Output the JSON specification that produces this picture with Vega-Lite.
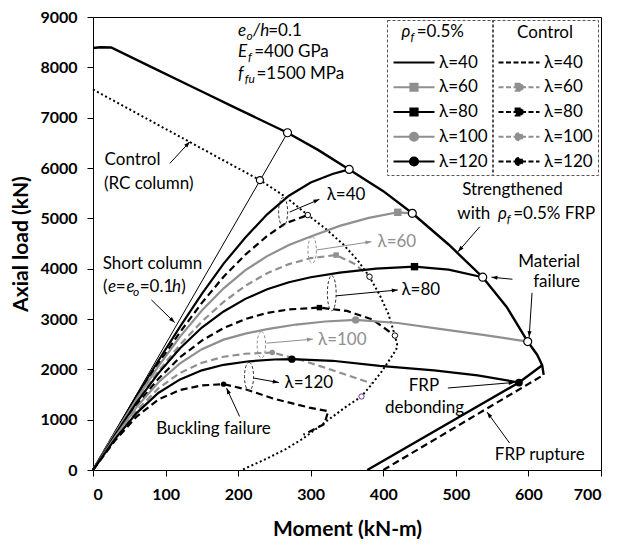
{
  "$schema": "https://vega.github.io/schema/vega-lite/v6.json",
  "width": 508,
  "height": 453,
  "autosize": {"type": "none"},
  "padding": {"left": 93, "top": 17, "right": 17, "bottom": 76},
  "background": "white",
  "config": {
    "font": "Lato",
    "view": {"stroke": "#000", "strokeWidth": 1},
    "axis": {"domainColor": "#000", "tickColor": "#000", "tickSize": 6, "labelColor": "#000", "labelFont": "Lato", "labelFontSize": 16, "labelFontWeight": "bold", "titleFont": "Lato", "titleFontSize": 21, "titleFontWeight": "bold", "titleColor": "#000", "grid": false, "labelPadding": 10, "format": "d"},
    "legend": {"labelFont": "Lato", "titleFont": "Lato", "labelFontSize": 17, "titleFontSize": 17, "titleFontWeight": "normal", "labelColor": "#000", "titleColor": "#000"},
    "text": {"font": "Lato", "fontSize": 17, "color": "#000"}
  },
  "datasets": {
    "lamS": [
      {"lam": "λ=40", "M": 0, "P": 0}, {"lam": "λ=40", "M": 30, "P": 740}, {"lam": "λ=40", "M": 60, "P": 1470}, {"lam": "λ=40", "M": 90, "P": 2170}, {"lam": "λ=40", "M": 120, "P": 2850}, {"lam": "λ=40", "M": 150, "P": 3500}, {"lam": "λ=40", "M": 180, "P": 4100}, {"lam": "λ=40", "M": 210, "P": 4620}, {"lam": "λ=40", "M": 240, "P": 5080}, {"lam": "λ=40", "M": 270, "P": 5450}, {"lam": "λ=40", "M": 300, "P": 5710}, {"lam": "λ=40", "M": 330, "P": 5880}, {"lam": "λ=40", "M": 353, "P": 5972},
      {"lam": "λ=60", "M": 0, "P": 0}, {"lam": "λ=60", "M": 30, "P": 720}, {"lam": "λ=60", "M": 60, "P": 1410}, {"lam": "λ=60", "M": 90, "P": 2060}, {"lam": "λ=60", "M": 120, "P": 2650}, {"lam": "λ=60", "M": 150, "P": 3170}, {"lam": "λ=60", "M": 180, "P": 3610}, {"lam": "λ=60", "M": 210, "P": 3970}, {"lam": "λ=60", "M": 240, "P": 4250}, {"lam": "λ=60", "M": 270, "P": 4470}, {"lam": "λ=60", "M": 300, "P": 4640}, {"lam": "λ=60", "M": 340, "P": 4850}, {"lam": "λ=60", "M": 380, "P": 5010}, {"lam": "λ=60", "M": 420, "P": 5120}, {"lam": "λ=60", "M": 440, "P": 5100},
      {"lam": "λ=80", "M": 0, "P": 0}, {"lam": "λ=80", "M": 30, "P": 690}, {"lam": "λ=80", "M": 60, "P": 1340}, {"lam": "λ=80", "M": 90, "P": 1920}, {"lam": "λ=80", "M": 120, "P": 2420}, {"lam": "λ=80", "M": 150, "P": 2830}, {"lam": "λ=80", "M": 180, "P": 3150}, {"lam": "λ=80", "M": 210, "P": 3400}, {"lam": "λ=80", "M": 240, "P": 3590}, {"lam": "λ=80", "M": 270, "P": 3730}, {"lam": "λ=80", "M": 300, "P": 3830}, {"lam": "λ=80", "M": 340, "P": 3920}, {"lam": "λ=80", "M": 390, "P": 4000}, {"lam": "λ=80", "M": 443, "P": 4040}, {"lam": "λ=80", "M": 490, "P": 3980}, {"lam": "λ=80", "M": 537, "P": 3830},
      {"lam": "λ=100", "M": 0, "P": 0}, {"lam": "λ=100", "M": 30, "P": 650}, {"lam": "λ=100", "M": 60, "P": 1250}, {"lam": "λ=100", "M": 90, "P": 1740}, {"lam": "λ=100", "M": 120, "P": 2120}, {"lam": "λ=100", "M": 150, "P": 2400}, {"lam": "λ=100", "M": 180, "P": 2590}, {"lam": "λ=100", "M": 210, "P": 2710}, {"lam": "λ=100", "M": 240, "P": 2800}, {"lam": "λ=100", "M": 280, "P": 2890}, {"lam": "λ=100", "M": 320, "P": 2950}, {"lam": "λ=100", "M": 362, "P": 2982}, {"lam": "λ=100", "M": 420, "P": 2920}, {"lam": "λ=100", "M": 480, "P": 2800}, {"lam": "λ=100", "M": 540, "P": 2680}, {"lam": "λ=100", "M": 599, "P": 2552},
      {"lam": "λ=120", "M": 0, "P": 0}, {"lam": "λ=120", "M": 30, "P": 610}, {"lam": "λ=120", "M": 60, "P": 1130}, {"lam": "λ=120", "M": 90, "P": 1530}, {"lam": "λ=120", "M": 120, "P": 1800}, {"lam": "λ=120", "M": 150, "P": 1980}, {"lam": "λ=120", "M": 180, "P": 2090}, {"lam": "λ=120", "M": 215, "P": 2160}, {"lam": "λ=120", "M": 250, "P": 2195}, {"lam": "λ=120", "M": 274, "P": 2202}, {"lam": "λ=120", "M": 330, "P": 2170}, {"lam": "λ=120", "M": 395, "P": 2069}, {"lam": "λ=120", "M": 470, "P": 1980}, {"lam": "λ=120", "M": 530, "P": 1880}, {"lam": "λ=120", "M": 587, "P": 1738}
    ],
    "lamC": [
      {"lam": "λ=40", "M": 0, "P": 0}, {"lam": "λ=40", "M": 30, "P": 730}, {"lam": "λ=40", "M": 60, "P": 1440}, {"lam": "λ=40", "M": 90, "P": 2110}, {"lam": "λ=40", "M": 120, "P": 2740}, {"lam": "λ=40", "M": 150, "P": 3320}, {"lam": "λ=40", "M": 180, "P": 3840}, {"lam": "λ=40", "M": 210, "P": 4280}, {"lam": "λ=40", "M": 240, "P": 4650}, {"lam": "λ=40", "M": 265, "P": 4900}, {"lam": "λ=40", "M": 296, "P": 5065},
      {"lam": "λ=60", "M": 0, "P": 0}, {"lam": "λ=60", "M": 30, "P": 700}, {"lam": "λ=60", "M": 60, "P": 1360}, {"lam": "λ=60", "M": 90, "P": 1960}, {"lam": "λ=60", "M": 120, "P": 2490}, {"lam": "λ=60", "M": 150, "P": 2950}, {"lam": "λ=60", "M": 180, "P": 3340}, {"lam": "λ=60", "M": 210, "P": 3660}, {"lam": "λ=60", "M": 240, "P": 3910}, {"lam": "λ=60", "M": 270, "P": 4090}, {"lam": "λ=60", "M": 300, "P": 4210}, {"lam": "λ=60", "M": 335, "P": 4270}, {"lam": "λ=60", "M": 360, "P": 4100}, {"lam": "λ=60", "M": 381, "P": 3840},
      {"lam": "λ=80", "M": 0, "P": 0}, {"lam": "λ=80", "M": 30, "P": 670}, {"lam": "λ=80", "M": 60, "P": 1290}, {"lam": "λ=80", "M": 90, "P": 1810}, {"lam": "λ=80", "M": 120, "P": 2240}, {"lam": "λ=80", "M": 150, "P": 2570}, {"lam": "λ=80", "M": 180, "P": 2820}, {"lam": "λ=80", "M": 210, "P": 3000}, {"lam": "λ=80", "M": 240, "P": 3120}, {"lam": "λ=80", "M": 270, "P": 3190}, {"lam": "λ=80", "M": 312, "P": 3226}, {"lam": "λ=80", "M": 350, "P": 3160}, {"lam": "λ=80", "M": 385, "P": 2990}, {"lam": "λ=80", "M": 416, "P": 2671},
      {"lam": "λ=100", "M": 0, "P": 0}, {"lam": "λ=100", "M": 30, "P": 620}, {"lam": "λ=100", "M": 60, "P": 1180}, {"lam": "λ=100", "M": 90, "P": 1620}, {"lam": "λ=100", "M": 120, "P": 1930}, {"lam": "λ=100", "M": 150, "P": 2130}, {"lam": "λ=100", "M": 180, "P": 2250}, {"lam": "λ=100", "M": 210, "P": 2310}, {"lam": "λ=100", "M": 247, "P": 2334}, {"lam": "λ=100", "M": 290, "P": 2170}, {"lam": "λ=100", "M": 335, "P": 1960}, {"lam": "λ=100", "M": 384, "P": 1720},
      {"lam": "λ=120", "M": 0, "P": 0}, {"lam": "λ=120", "M": 30, "P": 580}, {"lam": "λ=120", "M": 60, "P": 1060}, {"lam": "λ=120", "M": 90, "P": 1400}, {"lam": "λ=120", "M": 120, "P": 1590}, {"lam": "λ=120", "M": 150, "P": 1680}, {"lam": "λ=120", "M": 180, "P": 1706}, {"lam": "λ=120", "M": 211, "P": 1600}, {"lam": "λ=120", "M": 248, "P": 1420}, {"lam": "λ=120", "M": 298, "P": 1240}, {"lam": "λ=120", "M": 324, "P": 1170}, {"lam": "λ=120", "M": 319, "P": 915}, {"lam": "λ=120", "M": 290, "P": 700}
    ],
    "mkS": [
      {"lam": "λ=60", "M": 420, "P": 5120}, {"lam": "λ=80", "M": 443, "P": 4040}, {"lam": "λ=100", "M": 362, "P": 2982}, {"lam": "λ=120", "M": 274, "P": 2202}
    ],
    "mkC": [
      {"lam": "λ=60", "M": 335, "P": 4270}, {"lam": "λ=80", "M": 312, "P": 3226}, {"lam": "λ=100", "M": 247, "P": 2334}, {"lam": "λ=120", "M": 180, "P": 1706}
    ],
    "envS": [
      {"M": 0, "P": 8385}, {"M": 10, "P": 8400}, {"M": 25, "P": 8395}, {"M": 80, "P": 8010}, {"M": 140, "P": 7590}, {"M": 200, "P": 7170}, {"M": 268, "P": 6700}, {"M": 310, "P": 6360}, {"M": 353, "P": 5972}, {"M": 400, "P": 5540}, {"M": 440, "P": 5100}, {"M": 490, "P": 4480}, {"M": 537, "P": 3830}, {"M": 570, "P": 3240}, {"M": 599, "P": 2552}, {"M": 612, "P": 2290}, {"M": 619, "P": 2080}, {"M": 621, "P": 1890}
    ],
    "envC": [
      {"M": 0, "P": 7560}, {"M": 60, "P": 7090}, {"M": 120, "P": 6620}, {"M": 180, "P": 6150}, {"M": 230, "P": 5760}, {"M": 265, "P": 5430}, {"M": 296, "P": 5065}, {"M": 320, "P": 4800}, {"M": 345, "P": 4480}, {"M": 365, "P": 4160}, {"M": 381, "P": 3840}, {"M": 395, "P": 3480}, {"M": 407, "P": 3100}, {"M": 416, "P": 2671}, {"M": 419, "P": 2500}, {"M": 418, "P": 2400}, {"M": 410, "P": 2220}, {"M": 398, "P": 1960}, {"M": 385, "P": 1720}, {"M": 370, "P": 1460}, {"M": 348, "P": 1250}, {"M": 320, "P": 950}, {"M": 289, "P": 620}, {"M": 265, "P": 410}, {"M": 240, "P": 230}, {"M": 205, "P": 0}
    ],
    "shortCol": [{"M": 0, "P": 0}, {"M": 268, "P": 6700}],
    "tensionDeb": [{"M": 378, "P": 0}, {"M": 587, "P": 1738}, {"M": 619, "P": 2080}],
    "tensionRup": [{"M": 400, "P": 0}, {"M": 621, "P": 1890}],
    "openS": [{"M": 268, "P": 6700}, {"M": 353, "P": 5972}, {"M": 440, "P": 5100}, {"M": 537, "P": 3830}, {"M": 599, "P": 2552}],
    "openCBig": [{"M": 230, "P": 5760}],
    "openC": [{"M": 296, "P": 5065}, {"M": 381, "P": 3840}, {"M": 416, "P": 2671}],
    "openPurple": [{"M": 370, "P": 1460}],
    "debond": [{"M": 587, "P": 1738}],
    "ellBlack": [{"M": 262, "P": 5130}, {"M": 215, "P": 1857}],
    "ellBig": [{"M": 329, "P": 3512}],
    "ellGray": [{"M": 302, "P": 4371}, {"M": 232, "P": 2486}],
    "arrows": [
      {"M0": 105.8, "P0": 6091, "M": 133.4, "P": 6520},
      {"M0": 80.5, "P0": 3379, "M": 112.6, "P": 2929},
      {"M0": 202, "P0": 1063, "M": 184, "P": 1627},
      {"M0": 222, "P0": 1825, "M": 256, "P": 1738},
      {"M0": 335, "P0": 3460, "M": 420, "P": 3577},
      {"M0": 271, "P0": 5125, "M": 312, "P": 5377},
      {"M0": 533, "P0": 4834, "M": 503, "P": 4337},
      {"M0": 578, "P0": 3790, "M": 549, "P": 3830},
      {"M0": 605, "P0": 3520, "M": 601, "P": 2640},
      {"M0": 489, "P0": 1629, "M": 581, "P": 1740},
      {"M0": 574, "P0": 536, "M": 543, "P": 1150}
    ],
    "arrowsGray": [
      {"M0": 239, "P0": 2520, "M": 303, "P": 2600},
      {"M0": 308, "P0": 4371, "M": 383.6, "P": 4536}
    ],
    "txt": [
      {"t": "Control", "M": 16, "P": 6163},
      {"t": "(RC column)", "M": 15, "P": 5690},
      {"t": "Short column", "M": 13.4, "P": 4083},
      {"t": "λ=40", "M": 322, "P": 5462},
      {"t": "λ=80", "M": 425, "P": 3577},
      {"t": "λ=120", "M": 264, "P": 1732},
      {"t": "with", "M": 502, "P": 5081},
      {"t": "=0.5% FRP", "M": 579, "P": 5081},
      {"t": "=0.1", "M": 241.4, "P": 8716},
      {"t": "=400 GPa", "M": 222.1, "P": 8300},
      {"t": "=1500 MPa", "M": 225.2, "P": 7873},
      {"t": "(", "M": 13.8, "P": 3637},
      {"t": "=", "M": 31.3, "P": 3637},
      {"t": "=0.1", "M": 64.4, "P": 3637},
      {"t": ")", "M": 121.5, "P": 3637},
      {"t": "=0.5%", "M": 446, "P": 8709}
    ],
    "txtMid": [
      {"t": "Strengthened", "M": 578, "P": 5561},
      {"t": "FRP", "M": 456, "P": 1659},
      {"t": "debonding", "M": 456.8, "P": 1236},
      {"t": "FRP rupture", "M": 615.6, "P": 290},
      {"t": "Buckling failure", "M": 166, "P": 806}
    ],
    "txtEnd": [
      {"t": "Material", "M": 671, "P": 4139},
      {"t": "failure", "M": 671, "P": 3726}
    ],
    "txtGray": [
      {"t": "λ=60", "M": 392, "P": 4530},
      {"t": "λ=100", "M": 310, "P": 2585}
    ],
    "txtIt": [
      {"t": "e", "M": 199.8, "P": 8716},
      {"t": "/h", "M": 220.5, "P": 8716},
      {"t": "E", "M": 199.8, "P": 8300},
      {"t": "f", "M": 199.8, "P": 7873},
      {"t": "e", "M": 20.7, "P": 3637},
      {"t": "e", "M": 46, "P": 3637},
      {"t": "h", "M": 109, "P": 3637},
      {"t": "ρ", "M": 425, "P": 8709},
      {"t": "ρ", "M": 558, "P": 5081}
    ],
    "txtSub": [
      {"t": "o", "M": 211.4, "P": 8716},
      {"t": "f", "M": 213.6, "P": 8300},
      {"t": "fu", "M": 209, "P": 7873},
      {"t": "o", "M": 55.1, "P": 3637},
      {"t": "f", "M": 437.5, "P": 8709},
      {"t": "f", "M": 570, "P": 5081}
    ]
  },
  "encoding": {
    "x": {"field": "M", "type": "quantitative", "scale": {"domain": [0, 700], "nice": false, "zero": false}, "axis": {"values": [0, 100, 200, 300, 400, 500, 600, 700], "title": "Moment (kN-m)", "titlePadding": 16}},
    "y": {"field": "P", "type": "quantitative", "scale": {"domain": [0, 9000], "nice": false}, "axis": {"values": [0, 1000, 2000, 3000, 4000, 5000, 6000, 7000, 8000, 9000], "title": "Axial load (kN)", "titlePadding": 8}}
  },
  "layer": [
    {"data": {"name": "envC"}, "mark": {"type": "line", "stroke": "#000", "strokeWidth": 2, "strokeDash": [2, 2.6]}, "encoding": {"order": {"value": null}}},
    {"data": {"name": "shortCol"}, "mark": {"type": "line", "stroke": "#000", "strokeWidth": 1}, "encoding": {"order": {"value": null}}},
    {"data": {"name": "tensionRup"}, "mark": {"type": "line", "stroke": "#000", "strokeWidth": 2.2, "strokeDash": [7, 4]}, "encoding": {"order": {"value": null}}},
    {"data": {"name": "tensionDeb"}, "mark": {"type": "line", "stroke": "#000", "strokeWidth": 2.4}, "encoding": {"order": {"value": null}}},
    {"data": {"name": "envS"}, "mark": {"type": "line", "stroke": "#000", "strokeWidth": 2.4}, "encoding": {"order": {"value": null}}},
    {
      "layer": [
        {
          "data": {"name": "lamC"},
          "mark": {"type": "line", "strokeWidth": 2.2, "strokeDash": [7, 4]},
          "encoding": {
            "order": {"value": null},
            "stroke": {
              "field": "lam", "type": "nominal",
              "scale": {"domain": ["λ=40", "λ=60", "λ=80", "λ=100", "λ=120"], "range": ["#000000", "#8f8f8f", "#000000", "#8f8f8f", "#000000"]},
              "legend": {
                "title": "Control", "orient": "none", "legendX": 399, "legendY": 3, "direction": "vertical",
                "padding": 5, "strokeColor": "#555555", "titleAnchor": "middle", "titlePadding": 9,
                "labelOffset": 24, "symbolSize": 400, "symbolStrokeWidth": 2.2, "symbolDash": [5, 2.5], "rowPadding": 4.75,
                "encode": {
                  "legend": {"update": {"strokeDash": {"value": [3, 2]}}},
                  "symbols": {"update": {
                    "shape": {"signal": "datum.value == 'λ=40' ? 'M-1,0H3.1' : (datum.value == 'λ=60' || datum.value == 'λ=80') ? 'M-1,0H3.1M0.72,-0.33H1.38V0.33H0.72Z' : 'M-1,0H3.1M0.72,0C0.72,-0.19,0.86,-0.33,1.05,-0.33C1.24,-0.33,1.38,-0.19,1.38,0C1.38,0.19,1.24,0.33,1.05,0.33C0.86,0.33,0.72,0.19,0.72,0Z'"},
                    "fill": {"signal": "(datum.value == 'λ=60' || datum.value == 'λ=100') ? '#8f8f8f' : '#000000'"}
                  }}
                }
              }
            }
          }
        },
        {
          "data": {"name": "mkC"},
          "mark": {"type": "point", "filled": true, "opacity": 1, "size": 30, "strokeWidth": 0},
          "encoding": {
            "fill": {"field": "lam", "type": "nominal", "scale": {"domain": ["λ=40", "λ=60", "λ=80", "λ=100", "λ=120"], "range": ["#000000", "#8f8f8f", "#000000", "#8f8f8f", "#000000"]}, "legend": null},
            "shape": {"field": "lam", "type": "nominal", "scale": {"domain": ["λ=40", "λ=60", "λ=80", "λ=100", "λ=120"], "range": ["circle", "square", "square", "circle", "circle"]}, "legend": null}
          }
        }
      ]
    },
    {
      "layer": [
        {
          "data": {"name": "lamS"},
          "mark": {"type": "line", "strokeWidth": 2.2},
          "encoding": {
            "order": {"value": null},
            "stroke": {
              "field": "lam", "type": "nominal",
              "scale": {"domain": ["λ=40", "λ=60", "λ=80", "λ=100", "λ=120"], "range": ["#000000", "#8f8f8f", "#000000", "#8f8f8f", "#000000"]},
              "legend": {
                "title": " ", "orient": "none", "legendX": 294, "legendY": 3, "direction": "vertical",
                "padding": 5, "strokeColor": "#555555", "titleAnchor": "middle", "titlePadding": 9,
                "labelOffset": 24, "symbolSize": 400, "symbolStrokeWidth": 2.2, "rowPadding": 4.75,
                "encode": {
                  "legend": {"update": {"strokeDash": {"value": [3, 2]}}},
                  "symbols": {"update": {
                    "shape": {"signal": "datum.value == 'λ=40' ? 'M-1,0H3.1' : (datum.value == 'λ=60' || datum.value == 'λ=80') ? 'M-1,0H3.1M0.7,-0.35H1.4V0.35H0.7Z' : 'M-1,0H3.1M0.65,0C0.65,-0.22,0.83,-0.4,1.05,-0.4C1.27,-0.4,1.45,-0.22,1.45,0C1.45,0.22,1.27,0.4,1.05,0.4C0.83,0.4,0.65,0.22,0.65,0Z'"},
                    "fill": {"signal": "(datum.value == 'λ=60' || datum.value == 'λ=100') ? '#8f8f8f' : '#000000'"}
                  }}
                }
              }
            }
          }
        },
        {
          "data": {"name": "mkS"},
          "mark": {"type": "point", "filled": true, "opacity": 1, "size": 55, "strokeWidth": 0},
          "encoding": {
            "fill": {"field": "lam", "type": "nominal", "scale": {"domain": ["λ=40", "λ=60", "λ=80", "λ=100", "λ=120"], "range": ["#000000", "#8f8f8f", "#000000", "#8f8f8f", "#000000"]}, "legend": null},
            "shape": {"field": "lam", "type": "nominal", "scale": {"domain": ["λ=40", "λ=60", "λ=80", "λ=100", "λ=120"], "range": ["circle", "square", "square", "circle", "circle"]}, "legend": null}
          }
        }
      ]
    },
    {"data": {"name": "openS"}, "mark": {"type": "point", "shape": "circle", "size": 64, "fill": "white", "stroke": "#000", "strokeWidth": 1.2, "opacity": 1}},
    {"data": {"name": "openCBig"}, "mark": {"type": "point", "shape": "circle", "size": 50, "fill": "white", "stroke": "#000", "strokeWidth": 1.2, "opacity": 1}},
    {"data": {"name": "openC"}, "mark": {"type": "point", "shape": "circle", "size": 30, "fill": "white", "stroke": "#000", "strokeWidth": 1, "opacity": 1}},
    {"data": {"name": "openPurple"}, "mark": {"type": "point", "shape": "circle", "size": 28, "fill": "white", "stroke": "#7030a0", "strokeWidth": 1, "opacity": 1}},
    {"data": {"name": "debond"}, "mark": {"type": "point", "shape": "circle", "size": 60, "fill": "#000", "strokeWidth": 0, "opacity": 1}},
    {"data": {"name": "ellBlack"}, "mark": {"type": "point", "shape": "M0,-1C0.177,-1,0.32,-0.552,0.32,0C0.32,0.552,0.177,1,0,1C-0.177,1,-0.32,0.552,-0.32,0C-0.32,-0.552,-0.177,-1,0,-1Z", "size": 800, "fill": "transparent", "stroke": "#333", "strokeWidth": 1, "strokeDash": [3, 2], "opacity": 1}},
    {"data": {"name": "ellBig"}, "mark": {"type": "point", "shape": "M0,-1C0.14,-1,0.25,-0.552,0.25,0C0.25,0.552,0.14,1,0,1C-0.14,1,-0.25,0.552,-0.25,0C-0.25,-0.552,-0.14,-1,0,-1Z", "size": 1225, "fill": "transparent", "stroke": "#333", "strokeWidth": 1, "strokeDash": [3, 2], "opacity": 1}},
    {"data": {"name": "ellGray"}, "mark": {"type": "point", "shape": "M0,-1C0.177,-1,0.32,-0.552,0.32,0C0.32,0.552,0.177,1,0,1C-0.177,1,-0.32,0.552,-0.32,0C-0.32,-0.552,-0.177,-1,0,-1Z", "size": 700, "fill": "transparent", "stroke": "#8f8f8f", "strokeWidth": 1, "strokeDash": [3, 2], "opacity": 1}},
    {"data": {"name": "arrows"}, "mark": {"type": "rule", "stroke": "#000", "strokeWidth": 1}, "encoding": {"x2": {"field": "M0"}, "y2": {"field": "P0"}}},
    {
      "data": {"name": "arrows"},
      "transform": [{"calculate": "atan2((datum.M - datum.M0) * 0.7257, (datum.P - datum.P0) * 0.05033) * 180 / PI", "as": "ang"}],
      "mark": {"type": "point", "shape": "M0,0L0.55,1.6L-0.55,1.6Z", "size": 56, "filled": true, "fill": "#000", "strokeWidth": 0, "opacity": 1},
      "encoding": {"angle": {"field": "ang", "type": "quantitative", "scale": null}}
    },
    {"data": {"name": "arrowsGray"}, "mark": {"type": "rule", "stroke": "#8f8f8f", "strokeWidth": 1}, "encoding": {"x2": {"field": "M0"}, "y2": {"field": "P0"}}},
    {
      "data": {"name": "arrowsGray"},
      "transform": [{"calculate": "atan2((datum.M - datum.M0) * 0.7257, (datum.P - datum.P0) * 0.05033) * 180 / PI", "as": "ang"}],
      "mark": {"type": "point", "shape": "M0,0L0.55,1.6L-0.55,1.6Z", "size": 56, "filled": true, "fill": "#8f8f8f", "strokeWidth": 0, "opacity": 1},
      "encoding": {"angle": {"field": "ang", "type": "quantitative", "scale": null}}
    },
    {"data": {"name": "txt"}, "mark": {"type": "text", "align": "left", "baseline": "middle", "fontSize": 17, "color": "#000"}, "encoding": {"text": {"field": "t"}}},
    {"data": {"name": "txtMid"}, "mark": {"type": "text", "align": "center", "baseline": "middle", "fontSize": 17, "color": "#000"}, "encoding": {"text": {"field": "t"}}},
    {"data": {"name": "txtEnd"}, "mark": {"type": "text", "align": "right", "baseline": "middle", "fontSize": 17, "color": "#000"}, "encoding": {"text": {"field": "t"}}},
    {"data": {"name": "txtGray"}, "mark": {"type": "text", "align": "left", "baseline": "middle", "fontSize": 17, "color": "#8f8f8f"}, "encoding": {"text": {"field": "t"}}},
    {"data": {"name": "txtIt"}, "mark": {"type": "text", "align": "left", "baseline": "middle", "fontSize": 17, "fontStyle": "italic", "color": "#000"}, "encoding": {"text": {"field": "t"}}},
    {"data": {"name": "txtSub"}, "mark": {"type": "text", "align": "left", "baseline": "middle", "fontSize": 12, "fontStyle": "italic", "dy": 5, "color": "#000"}, "encoding": {"text": {"field": "t"}}}
  ],
  "resolve": {"scale": {"stroke": "independent"}}
}
